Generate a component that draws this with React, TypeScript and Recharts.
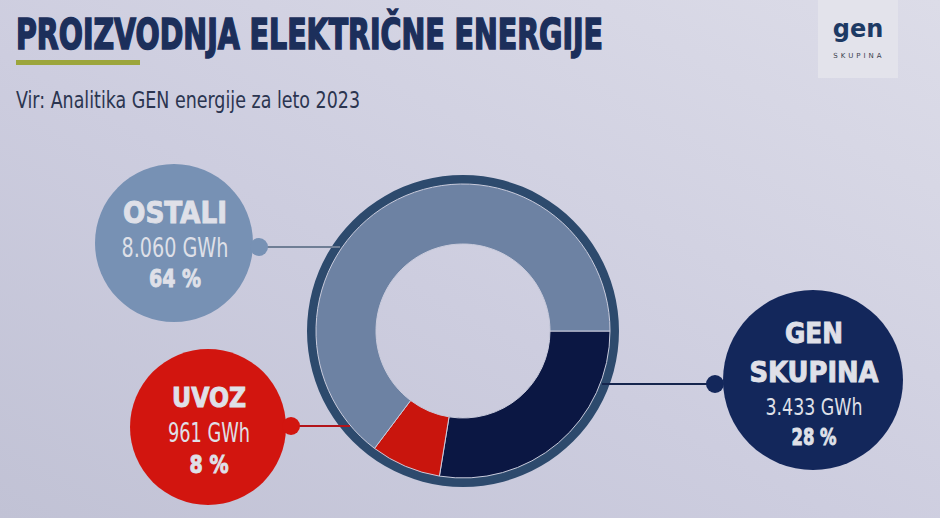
import React from "react";
import { PieChart, Pie, Cell } from "recharts";

// Proizvodnja električne energije 2023 (vir: Analitika GEN energije)
const categories = ["GEN SKUPINA", "UVOZ", "OSTALI"];
const energyGWh = [3433, 961, 8060];
const shares = [28, 8, 64];
const energyLabels = ["3.433 GWh", "961 GWh", "8.060 GWh"];

const sliceColors = ["#0b1743", "#c9150d", "#6d82a3"];
const bubbleColors = ["#13275b", "#d2150f", "#7791b4"];
const lineColors = ["#15254d", "#b3141a", "#6f7e95"];

const W = 940;
const H = 518;
const CX = 463;
const CY = 331;

const pieData = categories.map((name, i) => ({
  name,
  gwh: energyGWh[i],
  share: shares[i],
  label: energyLabels[i],
}));
const ringData = [{ name: "obroba", value: 1 }];

const textFill = "#dfe0e8";
const cond = "'DejaVu Sans Condensed', 'Liberation Sans Narrow', 'DejaVu Sans', sans-serif";
const narrow = "'Liberation Sans Narrow', 'DejaVu Sans Condensed', 'Liberation Sans', sans-serif";

type Line = { text: string; y: number; size: number; w: number; bold?: boolean };

function Bubble({ cx, cy, r, fill, x, lines }: { cx: number; cy: number; r: number; fill: string; x: number; lines: Line[] }) {
  return (
    <g>
      <circle cx={cx} cy={cy} r={r} fill={fill} />
      {lines.map((l) => (
        <text
          key={l.text}
          x={x - l.w / 2}
          y={l.y}
          fontSize={l.size}
          fontFamily={l.bold ? cond : narrow}
          fontWeight={l.bold ? 900 : 400}
          fill={textFill}
          stroke={l.bold ? textFill : "none"}
          strokeWidth={l.bold ? 0.9 : 0}
          textLength={l.w}
          lengthAdjust="spacingAndGlyphs"
        >
          {l.text}
        </text>
      ))}
    </g>
  );
}

export default function App() {
  const [gen, uvoz, ostali] = pieData;
  return (
    <div style={{ position: "relative", width: W, height: H, overflow: "hidden" }}>
      <style>{`body{margin:0}`}</style>
      <svg width={W} height={H} style={{ position: "absolute", left: 0, top: 0 }}>
        <defs>
          <linearGradient id="bg" x1="1" y1="0" x2="0" y2="1">
            <stop offset="0%" stopColor="#dcdce8" />
            <stop offset="55%" stopColor="#cdcddf" />
            <stop offset="100%" stopColor="#c1c2d5" />
          </linearGradient>
        </defs>
        <rect x={0} y={0} width={W} height={H} fill="url(#bg)" />

        <text
          x={16}
          y={49}
          fontSize={42}
          fontWeight={900}
          fontFamily={cond}
          fill="#1c2f5b"
          stroke="#1c2f5b"
          strokeWidth={1.6}
          textLength={587}
          lengthAdjust="spacingAndGlyphs"
        >
          PROIZVODNJA ELEKTRIČNE ENERGIJE
        </text>
        <rect x={16} y={60} width={124} height={5} fill="#9ca53c" />
        <text x={16} y={108} fontSize={23} fontFamily={narrow} fill="#2b3550" textLength={344} lengthAdjust="spacingAndGlyphs">
          Vir: Analitika GEN energije za leto 2023
        </text>

        <rect x={818} y={-4} width={80} height={82} fill="#e3e3eb" />
        <text x={858} y={37} textAnchor="middle" fontSize={24} fontWeight={700} fontFamily="'DejaVu Sans', sans-serif" fill="#1d3a64">
          gen
        </text>
        <text x={859} y={58} textAnchor="middle" fontSize={7} letterSpacing={3} fontFamily="'DejaVu Sans', sans-serif" fill="#3a3f4c">
          SKUPINA
        </text>

        <Bubble
          cx={174}
          cy={243}
          r={79}
          fill={bubbleColors[2]}
          x={175}
          lines={[
            { text: ostali.name, y: 223, size: 30, w: 104, bold: true },
            { text: ostali.label, y: 257, size: 26, w: 107 },
            { text: `${ostali.share} %`, y: 287, size: 25, w: 52, bold: true },
          ]}
        />
        <Bubble
          cx={208}
          cy={427}
          r={78}
          fill={bubbleColors[1]}
          x={209}
          lines={[
            { text: uvoz.name, y: 407, size: 27, w: 74, bold: true },
            { text: uvoz.label, y: 442, size: 26, w: 82 },
            { text: `${uvoz.share} %`, y: 473, size: 24, w: 39, bold: true },
          ]}
        />
        <Bubble
          cx={813}
          cy={380}
          r={90}
          fill={bubbleColors[0]}
          x={814}
          lines={[
            { text: "GEN", y: 343, size: 29, w: 58, bold: true },
            { text: "SKUPINA", y: 382, size: 29, w: 129, bold: true },
            { text: gen.label, y: 415, size: 23, w: 97 },
            { text: `${gen.share} %`, y: 445, size: 23, w: 45, bold: true },
          ]}
        />
      </svg>

      <div style={{ position: "absolute", left: 0, top: 0 }}>
        <PieChart width={W} height={H} margin={{ top: 0, right: 0, bottom: 0, left: 0 }}>
          <Pie
            data={ringData}
            dataKey="value"
            cx={CX}
            cy={CY}
            innerRadius={146}
            outerRadius={156}
            startAngle={0}
            endAngle={-360}
            stroke="none"
            fill="#2d4a6d"
            isAnimationActive={false}
          />
          <Pie
            data={pieData}
            dataKey="gwh"
            nameKey="name"
            cx={CX}
            cy={CY}
            innerRadius={87}
            outerRadius={147}
            startAngle={0}
            endAngle={-360}
            stroke="#c9cbdc"
            strokeWidth={1}
            isAnimationActive={false}
          >
            {pieData.map((d, i) => (
              <Cell key={d.name} fill={sliceColors[i]} />
            ))}
          </Pie>
        </PieChart>
      </div>

      <svg width={W} height={H} style={{ position: "absolute", left: 0, top: 0, pointerEvents: "none" }}>
        <line x1={258} y1={247} x2={340} y2={247} stroke={lineColors[2]} strokeWidth={2} />
        <circle cx={259} cy={247} r={9} fill={bubbleColors[2]} />
        <line x1={290} y1={426} x2={350} y2={426} stroke={lineColors[1]} strokeWidth={2} />
        <circle cx={291} cy={426} r={9} fill={bubbleColors[1]} />
        <line x1={602} y1={384} x2={715} y2={384} stroke={lineColors[0]} strokeWidth={2} />
        <circle cx={715} cy={384} r={9} fill={bubbleColors[0]} />
      </svg>
    </div>
  );
}
